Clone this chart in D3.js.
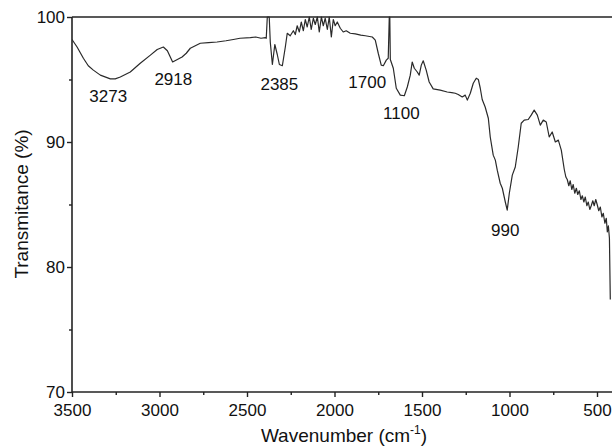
<!DOCTYPE html>
<html>
<head>
<meta charset="utf-8">
<script src="https://cdn.jsdelivr.net/npm/d3@7"></script>
<style>
  html, body { margin: 0; padding: 0; background: #fff; }
  svg { display: block; }
  text { font-family: "Liberation Sans", Arial, sans-serif; fill: #111; }
</style>
</head>
<body>
<svg id="chart" width="612" height="448"></svg>
<script>
// FTIR spectrum: wavenumber (cm-1) vs transmittance (%)
const wavenumber = [3500,3471,3435,3407,3378,3338,3281,3253,3224,3167,3110,3052,3013,2978,2955,2925,2898,2871,2847,2824,2767,2720,2671,2620,2578,2540,2481,2450,2420,2395,2390,2384,2373,2367,2355,2341,2327,2315,2298,2281,2270,2253,2235,2224,2213,2201,2190,2178,2167,2156,2144,2133,2121,2110,2098,2087,2075,2064,2053,2041,2030,2018,2007,1996,1984,1967,1950,1933,1910,1881,1850,1824,1784,1767,1750,1733,1721,1704,1693,1687,1684,1681,1664,1647,1624,1601,1584,1567,1556,1544,1527,1516,1504,1493,1476,1459,1436,1396,1356,1330,1310,1293,1270,1253,1241,1224,1207,1190,1178,1167,1156,1139,1121,1110,1093,1081,1070,1053,1041,1024,1013,1001,984,967,950,933,916,893,876,859,841,824,807,790,773,756,738,721,704,687,678,670,661,653,644,636,627,618,610,601,592,584,575,567,558,550,541,533,524,516,507,499,490,481,472,464,455,447,441,435,429,424];

const transmittance = [98.2,97.6,96.7,96.1,95.75,95.35,95.05,95.05,95.2,95.6,96.3,96.95,97.4,97.6,97.3,96.4,96.6,96.8,97.1,97.5,97.9,97.95,98.0,98.1,98.2,98.3,98.35,98.4,98.3,98.35,98.3,100,100,98.0,96.2,97.8,97.0,96.2,96.1,97.6,98.7,98.5,98.9,98.6,99.3,98.8,99.6,98.9,99.8,99.2,100,99.0,99.9,99.4,100,98.8,100,99.3,99.9,99.0,100,98.4,99.8,99.3,99.6,99.1,98.8,98.9,98.7,98.65,98.55,98.5,98.4,98.15,97.1,96.15,96.1,96.55,96.7,100,100,96.6,95.9,94.3,93.75,93.7,94.4,95.35,96.4,95.9,95.6,95.35,96.15,96.5,95.75,94.8,94.25,94.15,94.0,93.95,93.9,93.8,93.6,93.75,93.35,93.9,94.7,95.1,95.0,94.3,93.4,92.8,91.9,90.4,88.95,88.55,87.75,86.7,86.3,85.2,84.55,85.9,87.35,88.0,89.6,91.5,91.75,91.8,92.15,92.55,92.15,91.35,91.75,91.6,90.4,90.8,90.0,90.15,89.35,87.8,87.2,87.0,86.5,86.9,86.2,86.6,85.9,86.3,85.8,86.1,85.4,85.7,85.2,85.6,84.9,85.2,84.6,84.9,85.3,84.9,85.4,85.0,84.5,84.8,84.0,84.3,83.5,83.9,82.8,83.3,82.3,77.4];

const xMajorTicks = [3500, 3000, 2500, 2000, 1500, 1000, 500];
const xMinorTicks = [3250, 2750, 2250, 1750, 1250, 750];
const yMajorTicks = [70, 80, 90, 100];
const yMinorTicks = [75, 85, 95];

// Band labels, anchored in data units (wavenumber, transmittance)
const bandLabels = ["3273", "2918", "2385", "1700", "1100", "990"];
const bandLabelX = [3293, 2921, 2315, 1813, 1618, 1024];
const bandLabelY = [93.2, 94.56, 94.16, 94.32, 91.84, 82.48];

const svg = d3.select("#chart");
const plotLeft = 72, plotTop = 17, plotBottom = 392, plotRight = 614.5;

const x = d3.scaleLinear().domain([3500, 400]).range([plotLeft, plotRight]);
const y = d3.scaleLinear().domain([70, 100]).range([plotBottom, plotTop]);

const axisColor = "#222";

// clip region for the spectrum
svg.append("defs").append("clipPath").attr("id", "plotClip")
  .append("rect").attr("x", plotLeft).attr("y", plotTop - 1)
  .attr("width", plotRight - plotLeft).attr("height", plotBottom - plotTop + 1);

// x axis, major ticks with labels
const gx = svg.append("g").attr("transform", `translate(0,${plotBottom})`)
  .call(d3.axisBottom(x).tickValues(xMajorTicks).tickSize(5).tickPadding(7)
        .tickFormat(d3.format("d")));
// x axis, minor ticks
svg.append("g").attr("transform", `translate(0,${plotBottom})`)
  .call(d3.axisBottom(x).tickValues(xMinorTicks).tickSize(3).tickFormat(""))
  .select(".domain").remove();

// y axis, major ticks with labels
const gy = svg.append("g").attr("transform", `translate(${plotLeft},0)`)
  .call(d3.axisLeft(y).tickValues(yMajorTicks).tickSize(5).tickPadding(2)
        .tickFormat(d3.format("d")));
// y axis, minor ticks
svg.append("g").attr("transform", `translate(${plotLeft},0)`)
  .call(d3.axisLeft(y).tickValues(yMinorTicks).tickSize(3).tickFormat(""))
  .select(".domain").remove();

svg.selectAll(".domain").attr("stroke", axisColor).attr("stroke-width", 1.6);
svg.selectAll(".tick line").attr("stroke", axisColor).attr("stroke-width", 1.4);
svg.selectAll(".tick text").attr("font-size", 17)
  .attr("font-family", "'Liberation Sans', Arial, sans-serif").attr("fill", "#111");
gx.selectAll(".domain").attr("d", `M${plotLeft},0H${plotRight}`);
gy.selectAll(".domain").attr("d", `M0,${plotBottom}V${plotTop}`);

// top frame line
svg.append("line")
  .attr("x1", plotLeft).attr("x2", plotRight).attr("y1", plotTop).attr("y2", plotTop)
  .attr("stroke", axisColor).attr("stroke-width", 1.6);

// spectrum
const pts = wavenumber.map((w, i) => [w, transmittance[i]]);
svg.append("path")
  .datum(pts)
  .attr("clip-path", "url(#plotClip)")
  .attr("fill", "none")
  .attr("stroke", "#2a2a2a")
  .attr("stroke-width", 1.2)
  .attr("stroke-linejoin", "round")
  .attr("d", d3.line().x(d => x(d[0])).y(d => y(d[1])));

// band labels
svg.append("g").selectAll("text")
  .data(bandLabels)
  .join("text")
  .attr("x", (d, i) => x(bandLabelX[i]))
  .attr("y", (d, i) => y(bandLabelY[i]))
  .attr("text-anchor", "middle")
  .attr("font-size", 17)
  .text(d => d);

// axis titles
const xt = svg.append("text")
  .attr("x", 344).attr("y", 442)
  .attr("text-anchor", "middle")
  .attr("font-size", 19);
xt.append("tspan").text("Wavenumber (cm");
xt.append("tspan").attr("font-size", 12).attr("dy", -8).text("-1");
xt.append("tspan").attr("dy", 8).text(")");

svg.append("text")
  .attr("transform", "translate(28,204) rotate(-90)")
  .attr("text-anchor", "middle")
  .attr("font-size", 19)
  .text("Transmitance (%)");
</script>
</body>
</html>
